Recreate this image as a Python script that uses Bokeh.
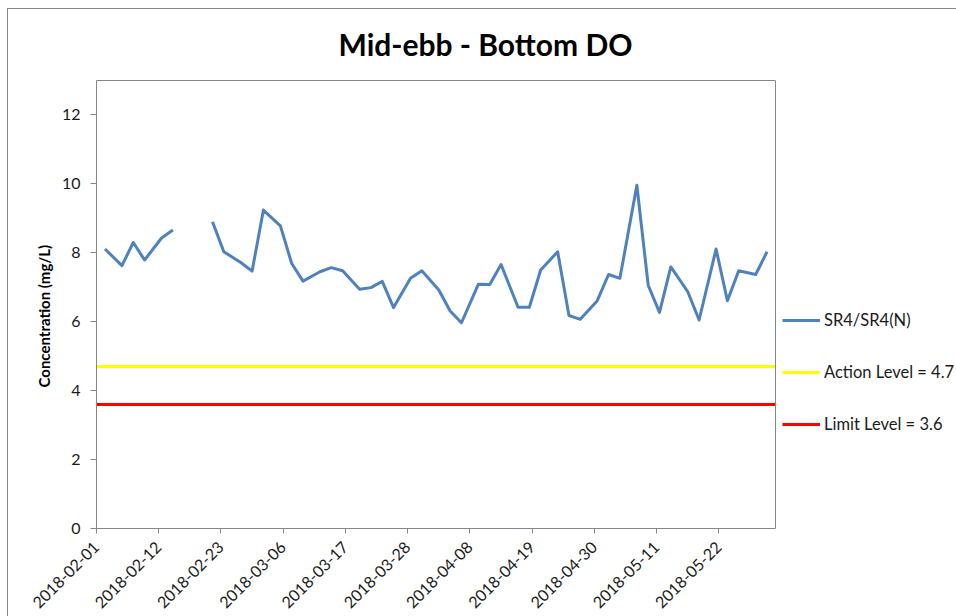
import math
import pandas as pd
from bokeh.plotting import figure
from bokeh.models import (FixedTicker, DatetimeTickFormatter, Range1d, Legend,
                          LegendItem, ColumnDataSource, Title, LinearAxis, Span)
from bokeh.embed import file_html
from bokeh.resources import INLINE

# ---------------- data ----------------
dates = ["2018-02-02", "2018-02-05", "2018-02-07", "2018-02-09", "2018-02-12",
         "2018-02-14", "2018-02-16", "2018-02-21", "2018-02-23", "2018-02-26",
         "2018-02-28", "2018-03-02", "2018-03-05", "2018-03-07", "2018-03-09",
         "2018-03-12", "2018-03-14", "2018-03-16", "2018-03-19", "2018-03-21",
         "2018-03-23", "2018-03-25", "2018-03-28", "2018-03-30", "2018-04-02",
         "2018-04-04", "2018-04-06", "2018-04-09", "2018-04-11", "2018-04-13",
         "2018-04-16", "2018-04-18", "2018-04-20", "2018-04-23", "2018-04-25",
         "2018-04-27", "2018-04-30", "2018-05-02", "2018-05-04", "2018-05-07",
         "2018-05-09", "2018-05-11", "2018-05-13", "2018-05-16", "2018-05-18",
         "2018-05-21", "2018-05-23", "2018-05-25", "2018-05-28", "2018-05-30"]
do_values = [8.11, 7.63, 8.30, 7.79, 8.43,
             8.66, None, 8.90, 8.03, 7.72,
             7.47, 9.24, 8.78, 7.69, 7.18,
             7.45, 7.57, 7.48, 6.94, 6.99,
             7.17, 6.41, 7.26, 7.48, 6.92,
             6.31, 5.97, 7.09, 7.08, 7.66,
             6.42, 6.42, 7.50, 8.03, 6.18,
             6.07, 6.61, 7.37, 7.26, 9.96,
             7.06, 6.27, 7.59, 6.87, 6.05,
             8.11, 6.61, 7.48, 7.37, 8.03]
series_name = "SR4/SR4(N)"
action_level = 4.7
limit_level = 3.6
action_label = "Action Level = 4.7"
limit_label = "Limit Level = 3.6"
x_tick_labels = ["2018-02-01", "2018-02-12", "2018-02-23", "2018-03-06",
                 "2018-03-17", "2018-03-28", "2018-04-08", "2018-04-19",
                 "2018-04-30", "2018-05-11", "2018-05-22"]
x_start, x_end = "2018-02-01", "2018-06-01"
y_ticks = [0, 2, 4, 6, 8, 10, 12]
y_min, y_max = 0, 13
title_text = "Mid-ebb - Bottom DO"
y_label = "Concentration (mg/L)"


def ms(s):
    return pd.Timestamp(s).value / 1e6


FONT = "Lato"
TEXT = "#1a1a1a"
GRAY = "#868686"

# layout (pixels)
W, H = 956, 616
LEFT, TOP, BOTTOM = 96, 80, 87
PLOT_W = 679          # width of the Excel plot area
# the frame extends to the right edge so the legend can live inside it
frame_w = W - LEFT
x0, x1 = ms(x_start), ms(x_end)
x_frame_end = x0 + (x1 - x0) * frame_w / PLOT_W

# points sit in the middle of their day slot (Excel date axis)
x_vals = [ms(d) + 12 * 3600 * 1000 for d in dates]
y_vals = [float("nan") if v is None else v for v in do_values]
src = ColumnDataSource(dict(x=x_vals, y=y_vals))

p = figure(width=W, height=H, x_axis_type="datetime",
           x_range=Range1d(x0, x_frame_end),
           y_range=Range1d(y_min, y_max),
           output_backend="svg", toolbar_location=None,
           min_border_left=LEFT, min_border_right=0,
           min_border_top=TOP, min_border_bottom=BOTTOM)

p.outline_line_color = None
p.xgrid.visible = False
p.ygrid.visible = False
p.background_fill_color = "white"
p.background_fill_alpha = 0
p.border_fill_color = "white"
p.border_fill_alpha = 0
# outer chart-area border (left and top edges)
p.styles = {"background": "linear-gradient(#868686,#868686) 7px 8px / 1px 100% no-repeat, "
                          "linear-gradient(#868686,#868686) 7px 8px / 100% 1px no-repeat, white"}

# title
p.title.text = title_text
p.title.text_font = FONT
p.title.text_font_style = "bold"
p.title.text_font_size = "30px"
p.title.text_color = "#000000"
p.title.align = "left"
p.title.offset = 242
p.title.standoff = 38

# x axis
xa = p.xaxis[0]
xa.ticker = FixedTicker(ticks=[ms(t) for t in x_tick_labels])
fmt = "%Y-%m-%d"
xa.formatter = DatetimeTickFormatter(microseconds=fmt, milliseconds=fmt, seconds=fmt,
                                     minsec=fmt, minutes=fmt, hourmin=fmt, hours=fmt,
                                     days=fmt, months=fmt, years=fmt)
xa.bounds = (x0, x1)
xa.major_label_orientation = math.pi / 4
xa.major_label_text_font = FONT
xa.major_label_text_font_size = "16px"
xa.major_label_text_color = TEXT
xa.axis_line_color = GRAY
xa.major_tick_line_color = GRAY
xa.major_tick_out = 5
xa.major_tick_in = 0
xa.minor_tick_line_color = None
xa.major_label_standoff = 11

# top edge of the plot area
top_axis = LinearAxis(ticker=FixedTicker(ticks=[]), bounds=(x0, x1),
                      axis_line_color=GRAY, major_tick_line_color=None,
                      minor_tick_line_color=None, major_label_text_font_size="0px",
                      major_tick_out=0, major_tick_in=0, major_label_standoff=0)
p.add_layout(top_axis, "above")
# right edge of the plot area
p.add_layout(Span(location=x1, dimension="height", line_color=GRAY, line_width=1))

# y axis
ya = p.yaxis[0]
ya.ticker = FixedTicker(ticks=y_ticks)
ya.major_label_text_font = FONT
ya.major_label_text_font_size = "16px"
ya.major_label_text_color = TEXT
ya.axis_line_color = GRAY
ya.major_tick_line_color = GRAY
ya.major_tick_out = 6
ya.major_tick_in = 0
ya.minor_tick_line_color = None
ya.major_label_standoff = 10

# y-axis title (side title so it can sit slightly low, like Excel)
ylab = Title(text=y_label, align="left", offset=141, standoff=12,
             text_font=FONT, text_font_style="bold", text_font_size="15px",
             text_color="#000000")
p.add_layout(ylab, "left")

# level lines across the plot area
r_act = p.line([x0, x1], [action_level, action_level],
               line_color="#FFFF00", line_width=3)
r_lim = p.line([x0, x1], [limit_level, limit_level],
               line_color="#FF0000", line_width=3)
r_do = p.line("x", "y", source=src, line_color="#4F81BD", line_width=3,
              line_join="round")

legend = Legend(items=[LegendItem(label=series_name, renderers=[r_do]),
                       LegendItem(label=action_label, renderers=[r_act]),
                       LegendItem(label=limit_label, renderers=[r_lim])],
                location=(PLOT_W + 7, 93), orientation="vertical",
                label_text_font=FONT, label_text_font_size="16.5px",
                label_text_color=TEXT, label_height=22, glyph_height=22,
                glyph_width=38, label_standoff=4, spacing=30, padding=0,
                margin=0, border_line_color=None, background_fill_alpha=0)
p.add_layout(legend, "center")

open("out.html", "w").write(file_html(p, INLINE))
